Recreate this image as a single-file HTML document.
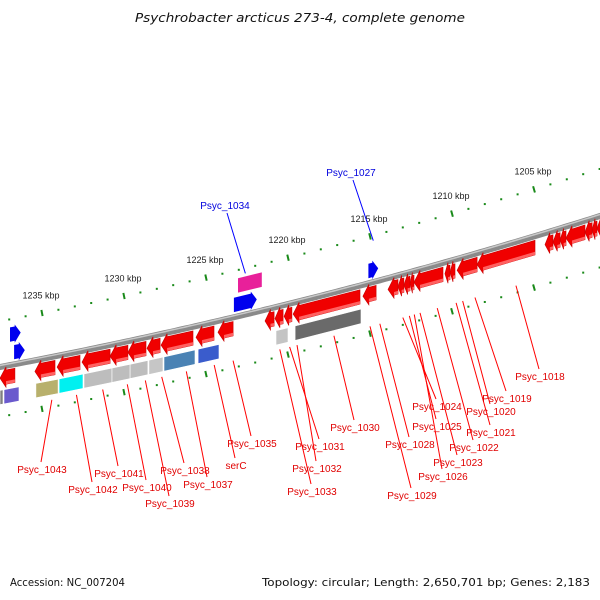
<!DOCTYPE html>
<html><head><meta charset="utf-8"><style>
html,body{margin:0;padding:0;background:#fff;}
svg{display:block;font-family:"Liberation Sans","DejaVu Sans",sans-serif;}
</style></head><body>
<svg id="map" width="600" height="600" viewBox="0 0 600 600" xmlns="http://www.w3.org/2000/svg">
<text x="135" y="22" textLength="330" lengthAdjust="spacingAndGlyphs" font-size="12" font-style="italic" fill="#111" style="font-family:'DejaVu Sans',sans-serif">Psychrobacter arcticus 273-4, complete genome</text>
<text x="10" y="586" textLength="115" lengthAdjust="spacingAndGlyphs" font-size="11" fill="#111" style="font-family:'DejaVu Sans',sans-serif">Accession: NC_007204</text>
<text x="262" y="586" textLength="328" lengthAdjust="spacingAndGlyphs" font-size="11" fill="#111" style="font-family:'DejaVu Sans',sans-serif">Topology: circular; Length: 2,650,701 bp; Genes: 2,183</text>
<g id="layer"></g>
</svg>
<script>
// ---- data (positions in kbp) ----
const majorTicks = [1240, 1235, 1230, 1225, 1220, 1215, 1210, 1205, 1200];
const revStart = [1237.56,1235.43,1234.08,1232.56,1230.85,1229.76,1228.6,1227.74,1225.61,1224.27,1221.4,1220.79,1220.24,1219.69,1215.43,1213.9,1213.29,1212.93,1212.56,1212.32,1210.43,1210.12,1209.69,1208.47,1204.33,1203.84,1203.41,1203.05,1201.89,1201.46,1201.16];
const revEnd   = [1236.65,1234.21,1232.68,1230.85,1229.76,1228.66,1227.8,1225.79,1224.51,1223.35,1220.85,1220.3,1219.76,1215.61,1214.63,1213.29,1212.93,1212.56,1212.32,1210.55,1210.12,1209.82,1208.47,1204.94,1203.84,1203.41,1203.05,1201.89,1201.46,1201.16,1200.73];
const cogStart = [1237.56,1237.32,1235.37,1233.96,1232.44,1230.73,1229.63,1228.48,1227.56,1225.48,1220.73,1219.57];
const cogEnd   = [1237.38,1236.4,1234.02,1232.5,1230.73,1229.63,1228.54,1227.62,1225.67,1224.21,1220.0,1215.55];
const cogColor = ["#808080","#6a5acd","#b8b06c","#00f0f0","#bdbdbd","#bdbdbd","#bdbdbd","#c6c6c6","#4a82b4","#3a5ccc","#c4c4c4","#6a6a6a"];
const fwdStart = [1236.95,1236.7,1223.3,1223.05,1215.1];
const fwdEnd   = [1236.3,1236.05,1221.9,1221.6,1214.5];
const fwdRow   = [2,1,1,2,1];
const fwdColor = ["#0000ee","#0000ee","#0000ee","#e8209a","#0000ee"];
const revLabels = ["Psyc_1043","Psyc_1042","Psyc_1041","Psyc_1040","Psyc_1039","Psyc_1038","Psyc_1037","serC","Psyc_1035","Psyc_1033","Psyc_1031","Psyc_1032","Psyc_1030","Psyc_1029","Psyc_1028","Psyc_1024","Psyc_1025","Psyc_1026","Psyc_1023","Psyc_1022","Psyc_1021","Psyc_1020","Psyc_1019","Psyc_1018"];
const revLabelKbp = [1234.4,1232.9,1231.3,1229.8,1228.7,1227.7,1226.2,1224.5,1223.35,1220.5,1219.9,1219.45,1217.2,1215.0,1214.4,1213.0,1212.6,1212.3,1211.95,1210.9,1209.75,1209.35,1208.6,1206.1];
const revLabelX = [42,93,119,147,170,185,208,236,252,312,320,317,355,412,410,437,437,443,458,474,491,491,507,540];
const revLabelY = [470,490,474,488,504,471,485,466,444,492,447,469,428,496,445,407,427,477,463,448,433,412,399,377];
const fwdLabels = ["Psyc_1034","Psyc_1027"];
const fwdLabelKbp = [1222.6,1214.8];
const fwdLabelX = [225,351];
const fwdLabelY = [205,172];

// ---- geometry ----
const NS="http://www.w3.org/2000/svg";
const layer=document.getElementById('layer');
function xOf(k){return 42+(1235-k)*16.4;}
function f(x){return 367-0.188*x-0.000106*x*x;}
function P(x,d){const s=-0.188-0.000212*x;const n=Math.sqrt(1+s*s);return [x, f(x)-d*n];}
function mk(tag,attrs){const e=document.createElementNS(NS,tag);for(const k in attrs)e.setAttribute(k,attrs[k]);layer.appendChild(e);return e;}
function pts(a){return a.map(p=>p[0].toFixed(1)+','+p[1].toFixed(1)).join(' ');}

// backbone
let bb=[];for(let x=-5;x<=605;x+=5)bb.push(P(x,0));
let e=mk('polyline',{points:pts(bb),fill:'none',stroke:'#8a8a8a','stroke-width':6});


bb=[];for(let x=-5;x<=605;x+=5)bb.push(P(x,1.5));
e=mk('polyline',{points:pts(bb),fill:'none',stroke:'#c8c8c8','stroke-width':1.5});



// ticks
for(let k=1238;k>=1200;k--){
  const x=xOf(k); if(x<-2||x>604)continue;
  const major=majorTicks.includes(k);
  [45,-49].forEach(d=>{
    let t;
    if(major){const a=P(x,d+3),b=P(x,d-3);const s=-0.188-0.000212*x;t=mk('line',{x1:a[0]+3*s,y1:a[1],x2:b[0]-3*s,y2:b[1],stroke:'#1a8a1a','stroke-width':2});}
    else{const a=P(x,d);t=mk('rect',{x:a[0]-1,y:a[1]-1,width:2,height:2,fill:'#1a8a1a'});}
    
    
  });
  if(major){const a=P(x,62);const t=mk('text',{x:a[0]-1,y:a[1]+3,'font-size':9,'text-anchor':'middle',fill:'#222'});t.textContent=k+' kbp';
    
    }
}

// reverse strand genes (arrows pointing left)
for(let i=0;i<revStart.length;i++){
  const x1=xOf(revStart[i]),x2=xOf(revEnd[i]);const hl=Math.min(6,(x2-x1)*0.6);
  const poly=[P(x1,-11),P(x1+hl,-1),P(x1+hl,-4),P(x2,-4),P(x2,-18),P(x1+hl,-18),P(x1+hl,-21)];
  const g=mk('polygon',{points:pts(poly),fill:'#f00000',stroke:'#c80000','stroke-width':0.6});
  
  
  const sh=[P(x1+hl,-15),P(x2,-15),P(x2,-18),P(x1+hl,-18)];
  const s=mk('polygon',{points:pts(sh),fill:'#ff6060'});
  
  
}
// COG row
for(let i=0;i<cogStart.length;i++){
  const x1=xOf(cogStart[i]),x2=xOf(cogEnd[i]);
  const r=mk('polygon',{points:pts([P(x1,-23),P(x2,-23),P(x2,-37),P(x1,-37)]),fill:cogColor[i],stroke:'#fff','stroke-width':0.6});
  
  
}
// forward genes
for(let i=0;i<fwdStart.length;i++){
  const x1=xOf(fwdStart[i]),x2=xOf(fwdEnd[i]);const d0=fwdRow[i]==1?5:23;
  let poly;
  if(fwdColor[i]=="#0000ee"){const hl=Math.min(6,(x2-x1)*0.6);poly=[P(x1,d0),P(x2-hl,d0),P(x2-hl,d0-2),P(x2,d0+7),P(x2-hl,d0+16),P(x2-hl,d0+14),P(x1,d0+14)];}
  else poly=[P(x1,d0),P(x2,d0),P(x2,d0+14),P(x1,d0+14)];
  const g=mk('polygon',{points:pts(poly),fill:fwdColor[i]});
  
  
}
// labels
for(let i=0;i<revLabels.length;i++){
  const a=P(xOf(revLabelKbp[i]),-42);
  const l=mk('line',{x1:a[0],y1:a[1],x2:revLabelX[i]-1,y2:revLabelY[i]-8,stroke:'#f00','stroke-width':1});
  
  
  const t=mk('text',{x:revLabelX[i],y:revLabelY[i]+3,'font-size':10,'text-anchor':'middle',fill:'#e00000'});t.textContent=revLabels[i];
  
  
}
for(let i=0;i<fwdLabels.length;i++){
  const a=P(xOf(fwdLabelKbp[i]),40);
  const l=mk('line',{x1:a[0],y1:a[1],x2:fwdLabelX[i]+2,y2:fwdLabelY[i]+8,stroke:'#00f','stroke-width':1});
  
  
  const t=mk('text',{x:fwdLabelX[i],y:fwdLabelY[i]+4,'font-size':10,'text-anchor':'middle',fill:'#0000dd'});t.textContent=fwdLabels[i];
  
  
}
</script>
</body></html>
